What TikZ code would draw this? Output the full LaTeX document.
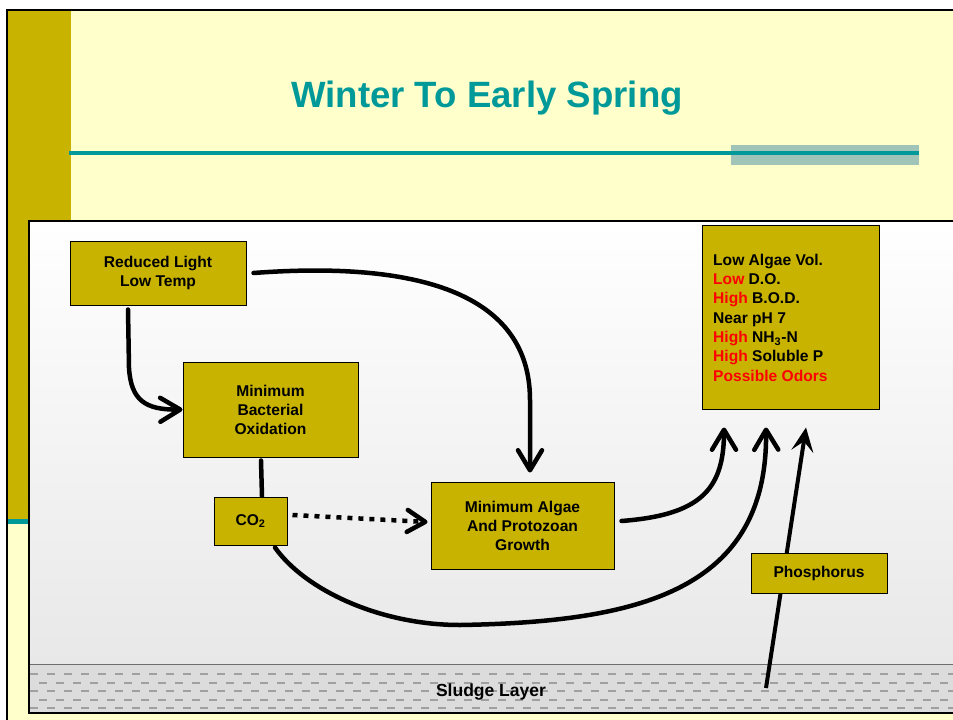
\documentclass[tikz,border=0pt]{standalone}
\usepackage{fontspec}
\setmainfont{Liberation Sans}
\usetikzlibrary{arrows.meta,calc}
\pgfdeclarelayer{bg}
\pgfdeclarelayer{mid}
\pgfsetlayers{bg,mid,main}
\definecolor{boxolive}{RGB}{200,180,0}
\definecolor{slideyellow}{RGB}{255,255,204}
\definecolor{titleteal}{RGB}{0,153,153}
\definecolor{grayteal}{RGB}{160,196,184}
\definecolor{panelgray}{RGB}{232,232,232}
\definecolor{sludgefill}{RGB}{220,220,220}
\definecolor{sludgedash}{RGB}{160,160,160}
\definecolor{sludgeline}{RGB}{110,110,110}
\tikzset{
  box/.style={draw=black, line width=1pt, fill=boxolive, align=center, inner sep=0pt,
    font=\bfseries\fontsize{15.6}{19}\selectfont},
  conn/.style={line width=4.5pt, line cap=round},
  chev/.style={-{Straight Barb[length=20pt,width=24pt,round]}},
}
\begin{document}
\begin{tikzpicture}[x=1pt,y=-1pt]
\useasboundingbox (0,0) rectangle (953,720);
\begin{pgfonlayer}{bg}
\fill[white] (0,0) rectangle (953,720);
\fill[slideyellow] (7,10) rectangle (960,730);
\draw[line width=2pt] (7,730) -- (7,10) -- (960,10);
\fill[boxolive] (8,11) rectangle (71,519);
\fill[titleteal] (8,519) rectangle (71,524);
\fill[grayteal] (731,145) rectangle (919,165);
\draw[titleteal, line width=3.5pt] (69,153) -- (919,153);
\shade[top color=white, bottom color=panelgray] (29,221) rectangle (960,665);
\fill[sludgefill] (29,665) rectangle (960,713);
\foreach \yy/\xx in {674/30, 683/39, 691/30, 699.5/39, 708/30}
  \draw[sludgedash, line width=2pt, dash pattern=on 8pt off 9pt] (\xx,\yy) -- (960,\yy);
\draw[sludgeline, line width=1pt] (29,664.5) -- (960,664.5);
\draw[line width=1.3pt] (960,221) -- (29,221) -- (29,713) -- (960,713);
\end{pgfonlayer}

\node[font=\bfseries\fontsize{36.6}{40}\selectfont, text=titleteal, anchor=base] (title) at (487,107) {Winter To Early Spring};

\node[box, minimum width=176pt, minimum height=64pt] (rl) at (158,273) {Reduced Light\\Low Temp};
\node[box, minimum width=175pt, minimum height=95pt] (bact) at (270.5,409.5) {Minimum\\Bacterial\\Oxidation};
\node[box, minimum width=73pt, minimum height=48pt] (co2) at (250.5,521) {CO\textsubscript{2}};
\node[box, minimum width=183pt, minimum height=87pt] (algae) at (522.5,525.5) {Minimum Algae\\And Protozoan\\Growth};
\node[box, minimum width=177pt, minimum height=184pt] (res) at (790.5,317) {};
\node[anchor=north west, inner sep=0pt, align=left, font=\bfseries\fontsize{15.6}{19.3}\selectfont] (restext) at (713,253.8)
 {Low Algae Vol.\\
  \textcolor{red}{Low} D.O.\\
  \textcolor{red}{High} B.O.D.\\
  Near pH 7\\
  \textcolor{red}{High} NH\textsubscript{3}-N\\
  \textcolor{red}{High} Soluble P\\
  \textcolor{red}{Possible Odors}};
\node[box, minimum width=136pt, minimum height=40pt] (phos) at (819,573) {Phosphorus};
\node[font=\bfseries\fontsize{17.5}{20}\selectfont, anchor=base, inner sep=0pt] (sludge) at (491,696) {Sludge Layer};
\coordinate (pstart) at (766,688);

\begin{pgfonlayer}{mid}
\draw[conn, chev] ([xshift=-30pt,yshift=-4pt]rl.south) -- (129,368) .. controls (131,400) and (145,410) .. (bact.west);
\draw[conn, chev] ([xshift=7pt]rl.east) .. controls (400,262) and (530,285) .. (530,400) -- ([xshift=7.5pt,yshift=9pt]algae.north);
\draw[conn] ([xshift=-9.5pt,yshift=-3pt]bact.south) -- ([xshift=11.5pt]co2.north);
\draw[conn, chev] ([xshift=24.5pt,yshift=-2pt]co2.south) .. controls (305,590) and (380,625) .. (460,625)
   .. controls (640,622) and (768,590) .. ([xshift=-24.5pt,yshift=-18pt]res.south);
\draw[conn, chev] ([xshift=7pt,yshift=4.5pt]algae.east) .. controls (700,515) and (724,490) .. ([xshift=-66.5pt,yshift=-18pt]res.south);
\draw[line width=4.5pt, dash pattern=on 5pt off 6pt, -{Straight Barb[length=18pt,width=22pt,round]}]
   ([xshift=5pt,yshift=6pt]co2.east) -- ([xshift=-3pt,yshift=3.5pt]algae.west);
\draw[line width=4pt, -{Stealth[length=24pt,width=22pt,inset=10pt]}] (pstart) -- ([xshift=15.5pt,yshift=-18pt]res.south);
\end{pgfonlayer}
\end{tikzpicture}
\end{document}
